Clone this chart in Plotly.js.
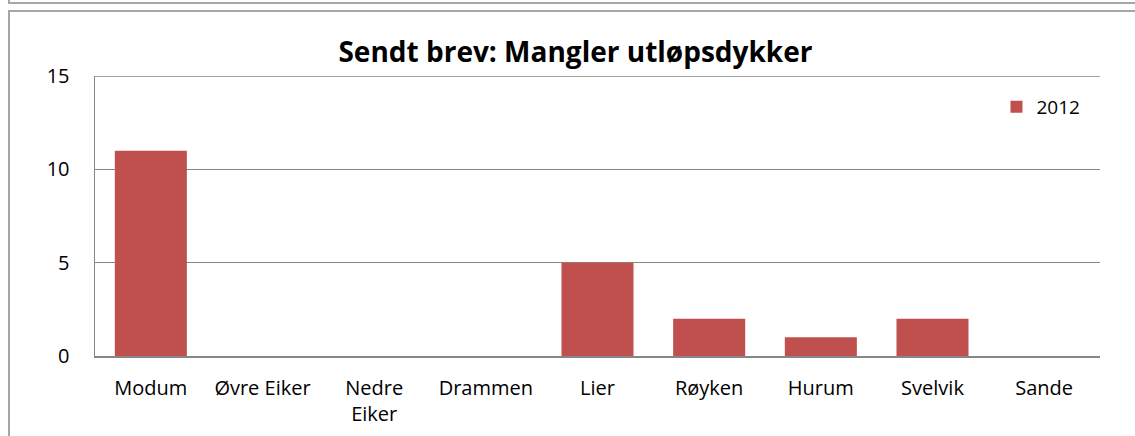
<!DOCTYPE html>
<html><head><meta charset="utf-8">
<script src="https://cdn.plot.ly/plotly-3.0.1.min.js"></script>
<style>
html,body{margin:0;padding:0;background:#fff;overflow:hidden;}
#frameTop{position:absolute;left:8px;top:-10px;width:1200px;height:12px;border-left:2px solid #a6a6a6;border-bottom:2px solid #a6a6a6;}
#frame{position:absolute;left:8px;top:10px;width:1200px;height:500px;border-left:2px solid #a6a6a6;border-top:2px solid #a6a6a6;}
#chart{position:absolute;left:0;top:0;width:1135px;height:436px;}
</style></head>
<body>
<div id="frameTop"></div>
<div id="frame"></div>
<div id="chart"></div>
<script>
var categories = ["Modum","Øvre Eiker","Nedre<br>Eiker","Drammen","Lier","Røyken","Hurum","Svelvik","Sande"];
var values2012 = [11,0,0,0,5,2,1,2,0];
var seriesName = "2012";
var yTicks = [0,5,10,15];

var FONT = "Open Sans, Liberation Sans, sans-serif";
var trace = {
  type:"bar", x:categories, y:values2012, name:seriesName,
  marker:{color:"#C0504D"}, showlegend:true, hoverinfo:"x+y"
};
var layout = {
  width:1135, height:436,
  paper_bgcolor:"rgba(0,0,0,0)", plot_bgcolor:"#fff",
  margin:{l:95,r:35,t:76,b:80},
  font:{family:FONT, size:20, color:"#000"},
  title:{text:"<b>Sendt brev: Mangler utløpsdykker</b>", x:0.507, xanchor:"center", y:0.88, yanchor:"middle",
         font:{size:28, color:"#000", family:FONT}},
  bargap:0.355,
  xaxis:{type:"category", showgrid:false, showline:true, linecolor:"#868686", linewidth:2,
         ticks:"", ticklabelstandoff:13, tickfont:{size:20}},
  yaxis:{range:[0,15], tickvals:yTicks, showgrid:true, gridcolor:"#868686", gridwidth:1.3,
         showline:true, linecolor:"#868686", linewidth:1.5, zeroline:false, ticks:"",
         ticklabelstandoff:20, tickfont:{size:20}},
  legend:{x:0.897, y:0.89, xanchor:"left", yanchor:"middle", bgcolor:"rgba(0,0,0,0)",
          font:{size:19}, itemwidth:30},
  shapes:[{type:"line", xref:"paper", yref:"y", x0:0, x1:1, y0:15, y1:15, line:{color:"#868686", width:1.5}}]
};
Plotly.newPlot("chart",[trace],layout,{displayModeBar:false, staticPlot:true});
</script>
</body></html>
